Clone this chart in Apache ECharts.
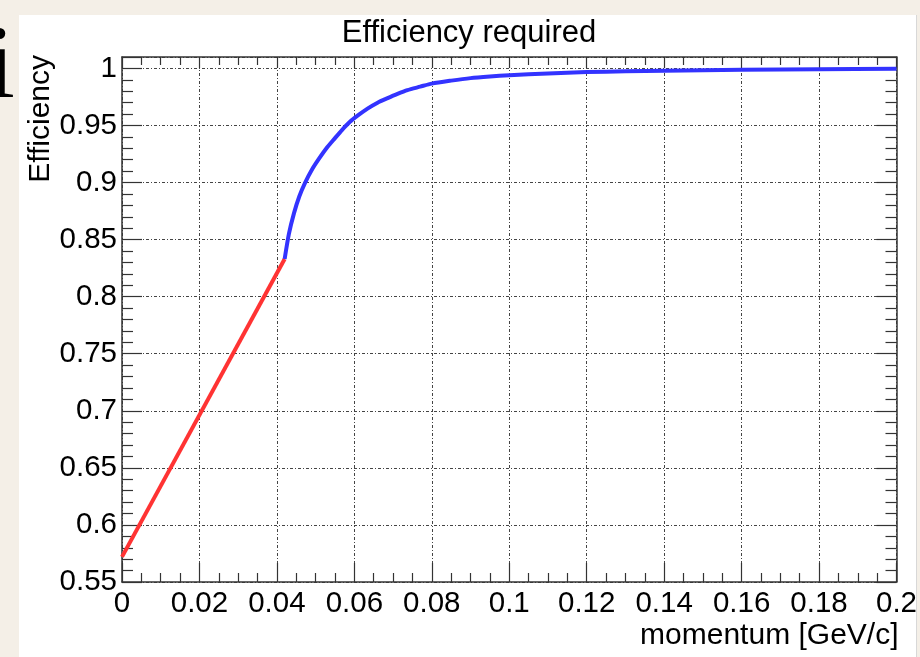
<!DOCTYPE html>
<html>
<head>
<meta charset="utf-8">
<script src="https://cdn.jsdelivr.net/npm/echarts@6/dist/echarts.min.js"></script>
<style>
html,body{margin:0;padding:0;background:#f4efe7;}
#main{width:920px;height:657px;}
</style>
</head>
<body>
<div id="main"></div>
<script>
// Red segment (linear part)
var redX = [0.0, 0.042];
var redY = [0.572, 0.833];
// Blue curve
var blueX = [0.042, 0.0431, 0.0444, 0.0458, 0.0473, 0.049, 0.0507, 0.0528, 0.0549, 0.0568, 0.0588, 0.061, 0.0635, 0.066, 0.0686, 0.071, 0.0737, 0.077, 0.08, 0.085, 0.09, 0.095, 0.10, 0.11, 0.12, 0.13, 0.14, 0.16, 0.18, 0.20];
var blueY = [0.833, 0.855, 0.873, 0.888, 0.900, 0.911, 0.920, 0.930, 0.9385, 0.946, 0.953, 0.959, 0.965, 0.970, 0.974, 0.9775, 0.981, 0.984, 0.9867, 0.9893, 0.9915, 0.9929, 0.994, 0.9956, 0.9968, 0.9975, 0.998, 0.9988, 0.9993, 0.9996];

var titleText = "Efficiency required";
var xName = "momentum [GeV/c]";
var yName = "Efficiency";

function pairs(xs, ys){ return xs.map(function(x,i){ return [x, ys[i]]; }); }

var font = '"Liberation Sans", Arial, sans-serif';
var gridLine = {show:true, lineStyle:{color:'#444', width:1, type:[3,2,1,2]}};

var chart = echarts.init(document.getElementById('main'), null, {renderer:'canvas'});
var option = {
  backgroundColor: '#f4efe7',
  animation: false,
  title: {
    text: titleText, left: 464, top: 13, textAlign: 'center',
    textStyle: {fontFamily: font, fontSize: 31, fontWeight: 'normal', color: '#000'}
  },
  graphic: [
    {type:'rect', z:-10, silent:true, shape:{x:19, y:15, width:897, height:642}, style:{fill:'#ffffff'}},
    {type:'line', z:-9, silent:true, shape:{x1:916.5, y1:15, x2:916.5, y2:657}, style:{stroke:'#d8d8d8', lineWidth:1}},
    {type:'text', z:10, silent:true, x:15, y:122, style:{text:'i', font:'104px "Liberation Serif", "DejaVu Serif", serif', fill:'#000', align:'right', verticalAlign:'bottom'}},
    {type:'text', z:10, silent:true, x:41, y:55, rotation: Math.PI/2, style:{text:yName, font:'30px "Liberation Sans", Arial, sans-serif', fill:'#000', align:'right', verticalAlign:'middle'}}
  ],
  grid: {left:122, right:21, top:57, bottom:75, show:false},
  xAxis: [
    {
      type:'value', min:0, max:0.2, interval:0.02, position:'bottom',
      name: xName, nameLocation:'end', nameGap: 2,
      nameTextStyle:{fontFamily:font, fontSize:30, color:'#000', align:'right', verticalAlign:'top', padding:[39,0,0,0]},
      axisLine:{show:true, onZero:false, lineStyle:{color:'#333', width:1.5}},
      axisTick:{show:true, inside:true, length:19, lineStyle:{color:'#333', width:1.2}},
      minorTick:{show:true, splitNumber:4, length:9, lineStyle:{color:'#333', width:1.2}},
      axisLabel:{fontFamily:font, fontSize:29.5, color:'#000', margin:7},
      splitLine: gridLine
    },
    {
      type:'value', min:0, max:0.2, interval:0.02, position:'top',
      axisLine:{show:true, onZero:false, lineStyle:{color:'#333', width:1.5}},
      axisTick:{show:true, inside:true, length:11, lineStyle:{color:'#333', width:1.2}},
      minorTick:{show:true, splitNumber:4, length:8, lineStyle:{color:'#333', width:1.2}},
      axisLabel:{show:false}, splitLine:{show:false}
    }
  ],
  yAxis: [
    {
      type:'value', min:0.55, max:1.01, interval:0.05, position:'left',
      axisLine:{show:true, onZero:false, lineStyle:{color:'#333', width:1.5}},
      axisTick:{show:true, inside:true, length:20, lineStyle:{color:'#333', width:1.2}},
      minorTick:{show:true, splitNumber:5, length:11, lineStyle:{color:'#333', width:1.2}},
      axisLabel:{fontFamily:font, fontSize:29.5, color:'#000', margin:5, showMaxLabel:false,
        formatter:function(v){ return Math.abs(v-1.01)<1e-6 ? '' : String(+v.toFixed(2)); }},
      splitLine: gridLine
    },
    {
      type:'value', min:0.55, max:1.01, interval:0.05, position:'right',
      axisLine:{show:true, onZero:false, lineStyle:{color:'#333', width:1.5}},
      axisTick:{show:true, inside:true, length:20, lineStyle:{color:'#333', width:1.2}},
      minorTick:{show:true, splitNumber:5, length:11, lineStyle:{color:'#333', width:1.2}},
      axisLabel:{show:false}, splitLine:{show:false}
    }
  ],
  series: [
    {type:'line', xAxisIndex:0, yAxisIndex:0, data: pairs(redX, redY), showSymbol:false, symbol:'none',
     lineStyle:{color:'#ff3333', width:4}, z:5},
    {type:'line', xAxisIndex:0, yAxisIndex:0, data: pairs(blueX, blueY), showSymbol:false, symbol:'none',
     smooth:0.25, lineStyle:{color:'#3333ff', width:4}, z:5}
  ]
};
chart.setOption(option);
</script>
</body>
</html>
